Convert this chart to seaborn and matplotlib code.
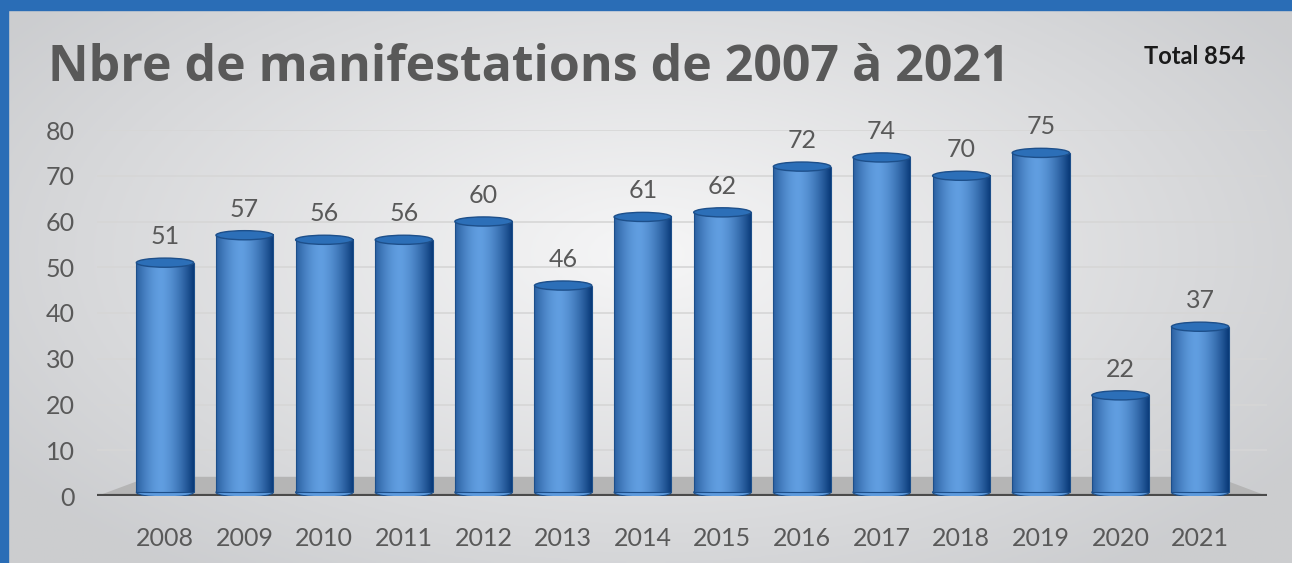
import numpy as np
import pandas as pd
import matplotlib
matplotlib.use("Agg")
import matplotlib.pyplot as plt
import seaborn as sns
from matplotlib.patches import Ellipse, Rectangle, Polygon

years = ["2008", "2009", "2010", "2011", "2012", "2013", "2014",
         "2015", "2016", "2017", "2018", "2019", "2020", "2021"]
values = [51, 57, 56, 56, 60, 46, 61, 62, 72, 74, 70, 75, 22, 37]
yticks = [0, 10, 20, 30, 40, 50, 60, 70, 80]
title = "Nbre de manifestations de 2007 à 2021"
total_text = "Total 854"

sns.set_theme(style="white")
plt.rcParams["font.family"] = ["Lato", "DejaVu Sans"]

W, H = 1292, 563
fig = plt.figure(figsize=(W / 100, H / 100), dpi=100)

# background radial gradient
bg = fig.add_axes([0, 0, 1, 1], zorder=-10)
yy, xx = np.mgrid[0:1:200j, 0:1:400j]
r = np.sqrt(((xx - 0.5) / 0.6) ** 2 + ((yy - 0.55) / 0.7) ** 2)
r = np.clip(r, 0, 1)
c0 = np.array([0.965, 0.965, 0.968])
c1 = np.array([0.80, 0.805, 0.815])
img = c0[None, None, :] * (1 - r[..., None]) + c1[None, None, :] * r[..., None]
bg.imshow(img, extent=[0, 1, 0, 1], aspect="auto", origin="lower")
bg.set_axis_off()

# blue frame (top & left)
fig.patches.append(Rectangle((0, 1 - 10 / H), 1, 10 / H, transform=fig.transFigure,
                             color="#2a6db6", zorder=5))
fig.patches.append(Rectangle((0, 0), 8 / W, 1, transform=fig.transFigure,
                             color="#2a6db6", zorder=5))

ax = fig.add_axes([97 / W, (H - 496) / H, 1170 / W, 366 / H])
ax.patch.set_alpha(0)
df = pd.DataFrame({"year": years, "value": values})
sns.barplot(data=df, x="year", y="value", color="#2e74bf", width=0.72,
            ax=ax, saturation=1, zorder=3)

ax.set_xlim(-0.854, 13.84)
ax.set_ylim(0, 80)
ax.set_yticks(yticks)
for y in yticks[1:]:
    ax.axhline(y, color="#d6d6d6", lw=1.2, zorder=1)

# floor
floor = Polygon([[-0.85, 0], [13.84, 0], [13.2, 4.2], [-0.2, 4.2]],
                closed=True, facecolor="#b5b5b5", edgecolor="none", zorder=2)
ax.add_patch(floor)
ax.axhline(0, color="#4a4a4a", lw=3, zorder=4)

# cylinder shading
grad = np.linspace(-1, 1, 200)
shade = 1 - np.abs(grad + 0.15) ** 1.6
dark = np.array([0.10, 0.30, 0.55])
light = np.array([0.38, 0.62, 0.88])
cyl = dark[None, :] * (1 - shade[:, None]) + light[None, :] * shade[:, None]
cyl = cyl[None, :, :]
ell_h = 2.0
for p, v in zip(ax.patches, values):
    x0, w, h = p.get_x(), p.get_width(), p.get_height()
    p.set_alpha(0)
    ax.imshow(cyl, extent=[x0, x0 + w, 0.8, h], aspect="auto",
              zorder=5, interpolation="bicubic")
    ax.add_patch(Ellipse((x0 + w / 2, 0.8), w, ell_h, facecolor=tuple(cyl[0, 100]),
                         edgecolor="#1d4f8a", lw=0.8, zorder=4.9))
    ax.add_patch(Rectangle((x0, 0.8), w, h - 0.8, facecolor="none",
                           edgecolor="#1d4f8a", lw=0.8, zorder=5.1))
    ax.add_patch(Ellipse((x0 + w / 2, h), w, ell_h, facecolor="#2c6fb8",
                         edgecolor="#1d4f8a", lw=1.0, zorder=5.2))
    ax.text(x0 + w / 2, h + 3.2, str(v), ha="center", va="bottom",
            fontsize=18, color="#595959", fontweight="normal", zorder=6)

ax.set_xlabel("")
ax.set_ylabel("")
ax.tick_params(axis="both", length=0, labelsize=18, labelcolor="#595959")
for lab in ax.get_xticklabels() + ax.get_yticklabels():
    lab.set_fontweight("normal")
ax.tick_params(axis="x", pad=22)
ax.tick_params(axis="y", pad=16)
for s in ax.spines.values():
    s.set_visible(False)

fig.text(48 / W, 1 - 68 / H, title, fontsize=36, fontweight="bold",
         color="#595959", ha="left", va="center",
         family=["Open Sans", "DejaVu Sans"])
fig.text(1245 / W, 1 - 57 / H, total_text, fontsize=17, fontweight="bold",
         color="#1a1a1a", ha="right", va="center")

fig.savefig("out.png", dpi=100)
